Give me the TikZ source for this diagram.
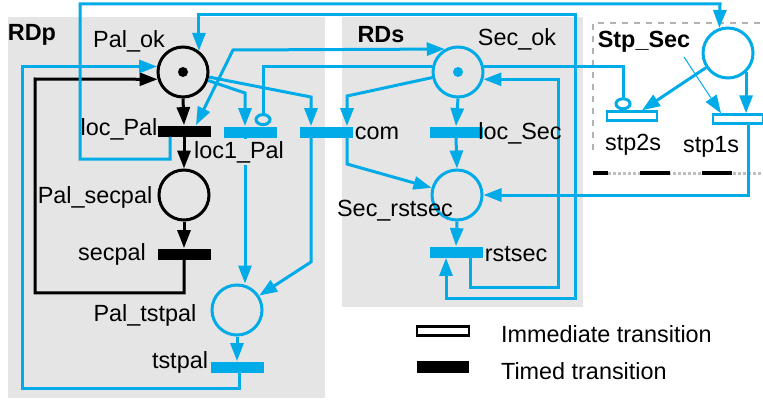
\documentclass[tikz,border=0pt]{standalone}
\usepackage{fontspec}
\setmainfont{Liberation Sans}
\usetikzlibrary{arrows.meta}
\definecolor{netblue}{RGB}{0,171,231}
\definecolor{boxgray}{RGB}{229,229,229}

\begin{document}
\begin{tikzpicture}[x=0.5pt,y=-0.5pt,>={Triangle[length=9pt,width=6.5pt]},every node/.style={font=\fontsize{11.7}{14}\selectfont},place/.style={circle,draw,line width=1.5pt,minimum size=25pt,inner sep=0pt},bplace/.style={place,draw=netblue},timed/.style={rectangle,fill=black,minimum width=26.5pt,minimum height=5.5pt,inner sep=0pt},btimed/.style={timed,fill=netblue},immed/.style={rectangle,draw=netblue,fill=white,line width=1.2pt,minimum width=25pt,minimum height=4.5pt,inner sep=0pt},arc/.style={line width=1.5pt,->},barc/.style={arc,netblue},inhib/.style={line width=1.5pt,netblue,-{Circle[open,length=6.5pt,width=8.5pt]}},bold/.style={font=\fontsize{11.7}{14}\selectfont\bfseries}]
\useasboundingbox (0,0) rectangle (763,401);
\fill[boxgray] (8,17) rectangle (325,398);
\fill[boxgray] (342,17) rectangle (583,307);
% Stp_Sec frame
\draw[gray!60,dashed,line width=0.6pt] (593,150) -- (593,23) -- (763,23);
\draw[gray!50,densely dotted,line width=1.5pt] (593,173) -- (763,173);
\foreach \a/\b in {593/608,640/670,702/732}
  \draw[line width=2pt] (\a,173) -- (\b,173);

% places and transitions
\node[place] (palok) at (183,72) {};
\fill (palok.center) circle (2.5pt);
\node[timed] (locpal) at (184,131) {};
\node[place] (palsecpal) at (184,195) {};
\node[timed] (secpal) at (184,254) {};
\node[bplace] (paltstpal) at (237,310) {};
\node[btimed] (tstpal) at (237,367) {};
\node[btimed] (loc1pal) at (250,132) {};
\node[btimed] (com) at (326,132) {};
\node[bplace] (secok) at (458,72) {};
\fill[netblue] (secok.center) circle (2.5pt);
\node[btimed] (locsec) at (456,132) {};
\node[bplace] (secrstsec) at (457,195) {};
\node[btimed] (rstsec) at (456,252) {};
\node[bplace] (stpsec) at (728,53) {};
\node[immed] (stp2s) at (632,116) {};
\node[immed] (stp1s) at (738,119) {};
\coordinate (thinsrc) at (684,57);

% black arcs
\draw[arc] (palok.south) -- (locpal.north);
\draw[arc] (locpal.south) -- (palsecpal.north);
\draw[arc] (palsecpal.south) -- (secpal.north);
\draw[arc] (secpal.south) -- ++(0,33) -| (35,79) -- (palok.196);

% blue arcs
\draw[barc] (palok) -- (245,93) -- (245,93 |- loc1pal.north);
\draw[barc] (palok) -- (311,97) -- (311,97 |- com.north);
\draw[barc] (secok) -- (347,96) -- (347,96 |- com.north);
\draw[barc] (com.south -| 311,0) -- (311,262) -- (paltstpal);
\draw[barc] (com.south -| 347,0) -- (347,164) -- (secrstsec);
\draw[barc] (loc1pal.south -| 245,0) -- (paltstpal.north -| 245,0);
\draw[barc] (paltstpal.south) -- (tstpal.north);
\draw[barc] (tstpal.south -| 239,0) |- (22,388) |- (palok.168);
\draw[barc] (locpal.south -| 170,0) |- (80,159) |- (720,4) -- (stpsec.109);
\draw[barc,<->] (palok.53) |- (575,15) |- (446,298) -- (rstsec.south -| 446,0);
\draw[barc,<->] (locpal.north -| 196,0) -- (233,50) -- (secok.120);
\draw[inhib] (secok.168) -| (loc1pal.north -| 263,0);
\draw[inhib] (secok.12) -| (stp2s.north -| 623,0);
\draw[barc] (secok.south) -- (locsec.north);
\draw[barc] (locsec.south) -- (secrstsec.north);
\draw[barc] (secrstsec.south) -- (rstsec.north);
\draw[barc] (rstsec.south -| 470,0) |- (558,287) |- (secok.-16);
\draw[barc] (stpsec) -- ([xshift=5pt]stp2s.north);
\draw[barc] (stpsec.-47) -- (stpsec.-47 |- stp1s.north);
\draw[netblue,line width=0.5pt,->] (thinsrc) -- (stp1s.north -| 721,0);
\draw[barc] (stp1s.south -| 748,0) |- (secrstsec.east);

% labels
\node[bold] (lrdp) at (32,35) {RDp};
\node (lpalok) at (129,41) {Pal\_ok};
\node (llocpal) at (119,129) {loc\_Pal};
\node[fill=boxgray,inner sep=1pt] (lloc1pal) at (239,152) {loc1\_Pal};
\node (lpalsecpal) at (95,197) {Pal\_secpal};
\node (lsecpal) at (112,254) {secpal};
\node (lpaltstpal) at (145,315) {Pal\_tstpal};
\node (ltstpal) at (180,362) {tstpal};
\node[bold] (lrds) at (381,35) {RDs};
\node (lsecok) at (517,39) {Sec\_ok};
\node (lcom) at (377,133) {com};
\node (llocsec) at (520,133) {loc\_Sec};
\node (lsecrstsec) at (395,211) {Sec\_rstsec};
\node (lrstsec) at (516,254) {rstsec};
\node[bold] (lstpsec) at (644,42) {Stp\_Sec};
\node (lstp2s) at (633,145) {stp2s};
\node (lstp1s) at (711,147) {stp1s};

% legend
\node[rectangle,draw,fill=white,line width=1.2pt,minimum width=26pt,minimum height=4.5pt,inner sep=0pt] (legimm) at (443,331) {};
\node[timed,minimum width=26pt,minimum height=6pt] (legtim) at (443,367) {};
\node[anchor=west] (legimmtxt) at (494,334) {Immediate transition};
\node[anchor=west] (legtimtxt) at (494,371) {Timed transition};
\end{tikzpicture}
\end{document}
